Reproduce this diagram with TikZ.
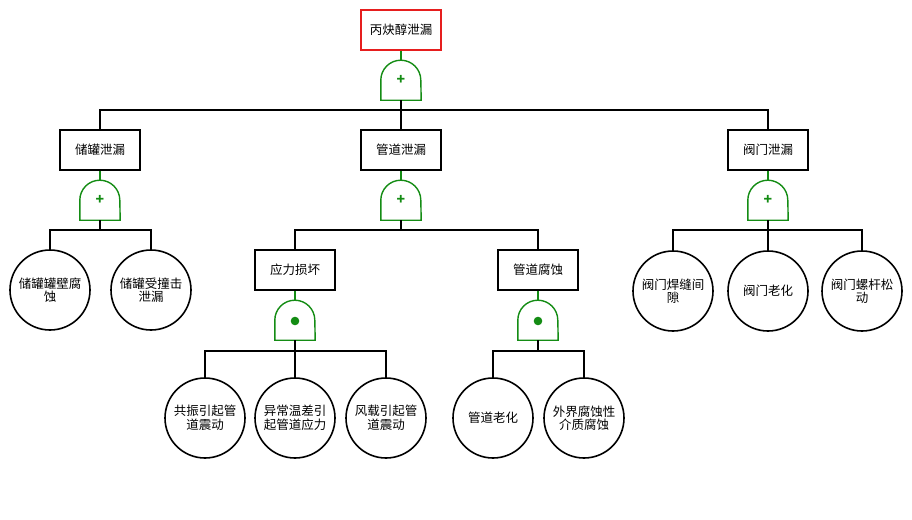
\documentclass[tikz,border=0pt]{standalone}
\usepackage{fontspec}
\setmainfont{Noto Sans CJK SC}
\definecolor{gatecol}{RGB}{20,140,20}
\definecolor{topred}{RGB}{230,30,30}
\tikzset{
  x=1pt,y=-1pt,
  evtbox/.style={draw=black,line width=1.6pt,minimum width=80pt,minimum height=40pt,inner sep=0pt,font=\fontsize{12.5}{14}\selectfont},
  topbox/.style={evtbox,draw=topred},
  basic/.style={draw=black,line width=1.6pt,circle,minimum size=80pt,inner sep=0pt,align=center,font=\fontsize{12.5}{13.5}\selectfont},
  gatenode/.style={minimum width=40pt,minimum height=40pt,inner sep=0pt,text=gatecol,font=\fontsize{14}{14}\selectfont\bfseries},
  gateline/.style={draw=gatecol,line width=1.4pt},
  link/.style={draw=black,line width=1.6pt},
  stem/.style={draw=black,line width=2.4pt},
  gstem/.style={draw=gatecol,line width=1.4pt},
}
\newcommand{\gateshape}[1]{%
  \draw[gateline] (#1.south west) -- ++(0,-20) arc[start angle=180,end angle=360,radius=20] -- (#1.south east) -- cycle;}
\newcommand{\gatedot}[1]{\fill[gatecol] ([yshift=-1pt]#1.center) circle[radius=4.3pt];}
\begin{document}
\begin{tikzpicture}
\useasboundingbox (0,0) rectangle (912,519);
% top
\node[topbox] (top) at (401,30) {丙炔醇泄漏};
\node[gatenode] (g0) at (401,80) {+};
\gateshape{g0}
\coordinate (j0) at (401,110);
% level 2
\node[evtbox] (b1) at (100,150) {储罐泄漏};
\node[evtbox] (b2) at (401,150) {管道泄漏};
\node[evtbox] (b3) at (768,150) {阀门泄漏};
\node[gatenode] (g1) at (100,200) {+};
\node[gatenode] (g2) at (401,200) {+};
\node[gatenode] (g3) at (768,200) {+};
\gateshape{g1}\gateshape{g2}\gateshape{g3}
\coordinate (j1) at (100,230);
\coordinate (j2) at (401,230);
\coordinate (j3) at (768,230);
% level 3 under b1
\node[basic] (c11) at (50,290) {储罐罐壁腐\\蚀};
\node[basic] (c12) at (151,290) {储罐受撞击\\泄漏};
% level 3 under b2
\node[evtbox] (b21) at (295,270) {应力损坏};
\node[evtbox] (b22) at (538,270) {管道腐蚀};
\node[gatenode] (g21) at (295,320) {};
\node[gatenode] (g22) at (538,320) {};
\gateshape{g21}\gateshape{g22}
\gatedot{g21}\gatedot{g22}
\coordinate (j21) at (295,351);
\coordinate (j22) at (538,351);
\node[basic] (c211) at (205,418) {共振引起管\\道震动};
\node[basic] (c212) at (295,418) {异常温差引\\起管道应力};
\node[basic] (c213) at (386,418) {风载引起管\\道震动};
\node[basic] (c221) at (493,418) {管道老化};
\node[basic] (c222) at (584,418) {外界腐蚀性\\介质腐蚀};
% level 3 under b3
\node[basic] (c31) at (673,291) {阀门焊缝间\\隙};
\node[basic] (c32) at (768,291) {阀门老化};
\node[basic] (c33) at (862,291) {阀门螺杆松\\动};
% connectors top
\draw[gstem] (top.south) -- (g0.north);
\draw[stem] (g0.south) -- (j0);
\draw[link] (b1.north) -- (b1.north |- j0) -- (b3.north |- j0) -- (b3.north);
\draw[link] (b2.north) -- (j0);
% b1
\draw[gstem] (b1.south) -- (g1.north);
\draw[stem] (g1.south) -- (j1);
\draw[link] (c11.north) -- (c11.north |- j1) -- (c12.north |- j1) -- (c12.north);
% b2
\draw[gstem] (b2.south) -- (g2.north);
\draw[stem] (g2.south) -- (j2);
\draw[link] (b21.north) -- (b21.north |- j2) -- (b22.north |- j2) -- (b22.north);
% b3
\draw[gstem] (b3.south) -- (g3.north);
\draw[stem] (g3.south) -- (j3);
\draw[link] (c31.north) -- (c31.north |- j3) -- (c33.north |- j3) -- (c33.north);
\draw[link] (c32.north) -- (j3);
% b21
\draw[gstem] (b21.south) -- (g21.north);
\draw[stem] (g21.south) -- (j21);
\draw[link] (c211.north) -- (c211.north |- j21) -- (c213.north |- j21) -- (c213.north);
\draw[link] (c212.north) -- (j21);
% b22
\draw[gstem] (b22.south) -- (g22.north);
\draw[stem] (g22.south) -- (j22);
\draw[link] (c221.north) -- (c221.north |- j22) -- (c222.north |- j22) -- (c222.north);
\end{tikzpicture}
\end{document}
